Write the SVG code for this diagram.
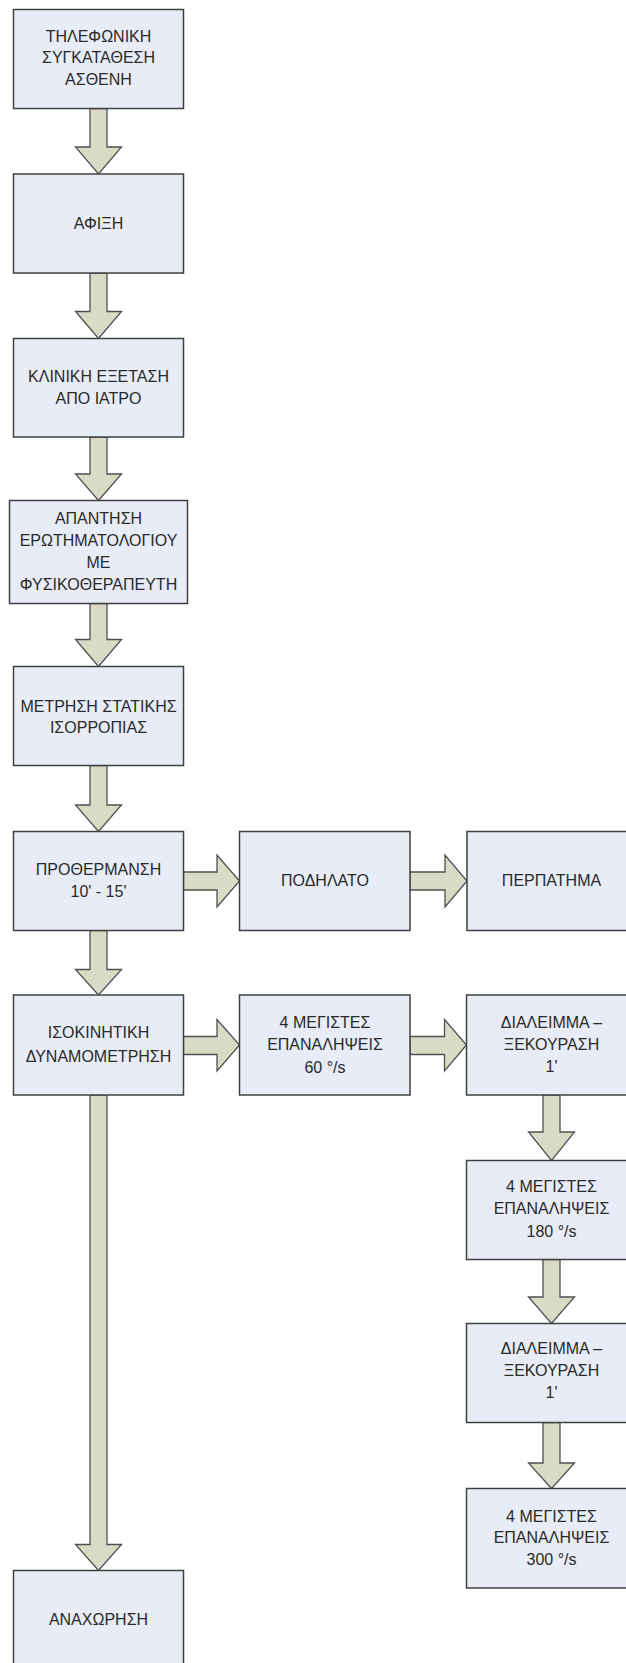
<svg xmlns="http://www.w3.org/2000/svg" width="626" height="1663" viewBox="0 0 626 1663">
<style>
.box{fill:#E7ECF6;stroke:#404040;stroke-width:1.5}
.arr{fill:#D9DBC6;stroke:#505050;stroke-width:1.3;stroke-linejoin:miter}
text{font-family:"Liberation Sans",Arial,sans-serif;font-size:16px;fill:#2a2a2a;text-anchor:middle}
</style>
<rect width="626" height="1663" fill="#ffffff"/>
<g id="connectors">
<polygon class="arr" points="90,108.5 107,108.5 107,147 121.5,147 98.5,174 75.5,147 90,147"/>
<polygon class="arr" points="90,273 107,273 107,311.5 121.5,311.5 98.5,338.5 75.5,311.5 90,311.5"/>
<polygon class="arr" points="90,437 107,437 107,474 121.5,474 98.5,500.5 75.5,474 90,474"/>
<polygon class="arr" points="90,603.5 107,603.5 107,639.5 121.5,639.5 98.5,666.5 75.5,639.5 90,639.5"/>
<polygon class="arr" points="90,765.5 107,765.5 107,805 121.5,805 98.5,831.5 75.5,805 90,805"/>
<polygon class="arr" points="90,930.5 107,930.5 107,969.5 121.5,969.5 98.5,995 75.5,969.5 90,969.5"/>
<polygon class="arr" points="90,1095 107,1095 107,1544.5 121.5,1544.5 98.5,1570.5 75.5,1544.5 90,1544.5"/>
<polygon class="arr" points="543,1095 560,1095 560,1132 574.5,1132 551.5,1160.5 528.5,1132 543,1132"/>
<polygon class="arr" points="543,1259.5 560,1259.5 560,1297 574.5,1297 551.5,1323.5 528.5,1297 543,1297"/>
<polygon class="arr" points="543,1422.5 560,1422.5 560,1463 574.5,1463 551.5,1488.5 528.5,1463 543,1463"/>
<polygon class="arr" points="183.5,872 217,872 217,855 239.5,881 217,907 217,890 183.5,890"/>
<polygon class="arr" points="410,872 445,872 445,855 467,881 445,907 445,890 410,890"/>
<polygon class="arr" points="183.5,1036.5 217,1036.5 217,1019.5 239.5,1045 217,1071 217,1054.5 183.5,1054.5"/>
<polygon class="arr" points="410,1036.5 444.5,1036.5 444.5,1019.5 466.5,1045 444.5,1071 444.5,1054.5 410,1054.5"/>
</g>
<g id="n1"><rect class="box" x="13.5" y="9.5" width="170" height="99"/><text x="98.5" y="41.5">ΤΗΛΕΦΩΝΙΚΗ</text><text x="98.5" y="63.3">ΣΥΓΚΑΤΑΘΕΣΗ</text><text x="98.5" y="85">ΑΣΘΕΝΗ</text></g>
<g id="n2"><rect class="box" x="13.5" y="174" width="170" height="99"/><text x="98.5" y="228.5">ΑΦΙΞΗ</text></g>
<g id="n3"><rect class="box" x="13.5" y="338.5" width="170" height="98.5"/><text x="98.5" y="381.7">ΚΛΙΝΙΚΗ ΕΞΕΤΑΣΗ</text><text x="98.5" y="404">ΑΠΟ ΙΑΤΡΟ</text></g>
<g id="n4"><rect class="box" x="9.5" y="500.5" width="178" height="103"/><text x="98.5" y="524">ΑΠΑΝΤΗΣΗ</text><text x="98.5" y="546">ΕΡΩΤΗΜΑΤΟΛΟΓΙΟΥ</text><text x="98.5" y="568.3">ΜΕ</text><text x="98.5" y="590">ΦΥΣΙΚΟΘΕΡΑΠΕΥΤΗ</text></g>
<g id="n5"><rect class="box" x="13.5" y="666.5" width="170" height="99"/><text x="98.5" y="711.7">ΜΕΤΡΗΣΗ ΣΤΑΤΙΚΗΣ</text><text x="98.5" y="733.3">ΙΣΟΡΡΟΠΙΑΣ</text></g>
<g id="n6"><rect class="box" x="13.5" y="831.5" width="170" height="99"/><text x="98.5" y="875">ΠΡΟΘΕΡΜΑΝΣΗ</text><text x="98.5" y="896.7">10' - 15'</text></g>
<g id="n7"><rect class="box" x="239.5" y="831.5" width="170.5" height="99"/><text x="325" y="886">ΠΟΔΗΛΑΤΟ</text></g>
<g id="n8"><rect class="box" x="467" y="831.5" width="171" height="99"/><text x="551.5" y="886">ΠΕΡΠΑΤΗΜΑ</text></g>
<g id="n9"><rect class="box" x="13.5" y="995" width="170" height="100"/><text x="98.5" y="1038.3">ΙΣΟΚΙΝΗΤΙΚΗ</text><text x="98.5" y="1061.7">ΔΥΝΑΜΟΜΕΤΡΗΣΗ</text></g>
<g id="n10"><rect class="box" x="239.5" y="995" width="170.5" height="100"/><text x="325" y="1028.3">4 ΜΕΓΙΣΤΕΣ</text><text x="325" y="1050">ΕΠΑΝΑΛΗΨΕΙΣ</text><text x="325" y="1072.5">60 °/s</text></g>
<g id="n11"><rect class="box" x="466.5" y="995" width="171" height="100"/><text x="551.5" y="1028.3">ΔΙΑΛΕΙΜΜΑ –</text><text x="551.5" y="1050">ΞΕΚΟΥΡΑΣΗ</text><text x="551.5" y="1072">1'</text></g>
<g id="n12"><rect class="box" x="466.5" y="1160.5" width="171" height="99"/><text x="551.5" y="1191.7">4 ΜΕΓΙΣΤΕΣ</text><text x="551.5" y="1214.3">ΕΠΑΝΑΛΗΨΕΙΣ</text><text x="551.5" y="1236.7">180 °/s</text></g>
<g id="n13"><rect class="box" x="466.5" y="1323.5" width="171" height="99"/><text x="551.5" y="1354">ΔΙΑΛΕΙΜΜΑ –</text><text x="551.5" y="1376">ΞΕΚΟΥΡΑΣΗ</text><text x="551.5" y="1397.5">1'</text></g>
<g id="n14"><rect class="box" x="466.5" y="1488.5" width="171" height="99.5"/><text x="551.5" y="1521.7">4 ΜΕΓΙΣΤΕΣ</text><text x="551.5" y="1543.3">ΕΠΑΝΑΛΗΨΕΙΣ</text><text x="551.5" y="1565">300 °/s</text></g>
<g id="n15"><rect class="box" x="13.5" y="1570.5" width="170" height="100"/><text x="98.5" y="1625">ΑΝΑΧΩΡΗΣΗ</text></g>
</svg>
